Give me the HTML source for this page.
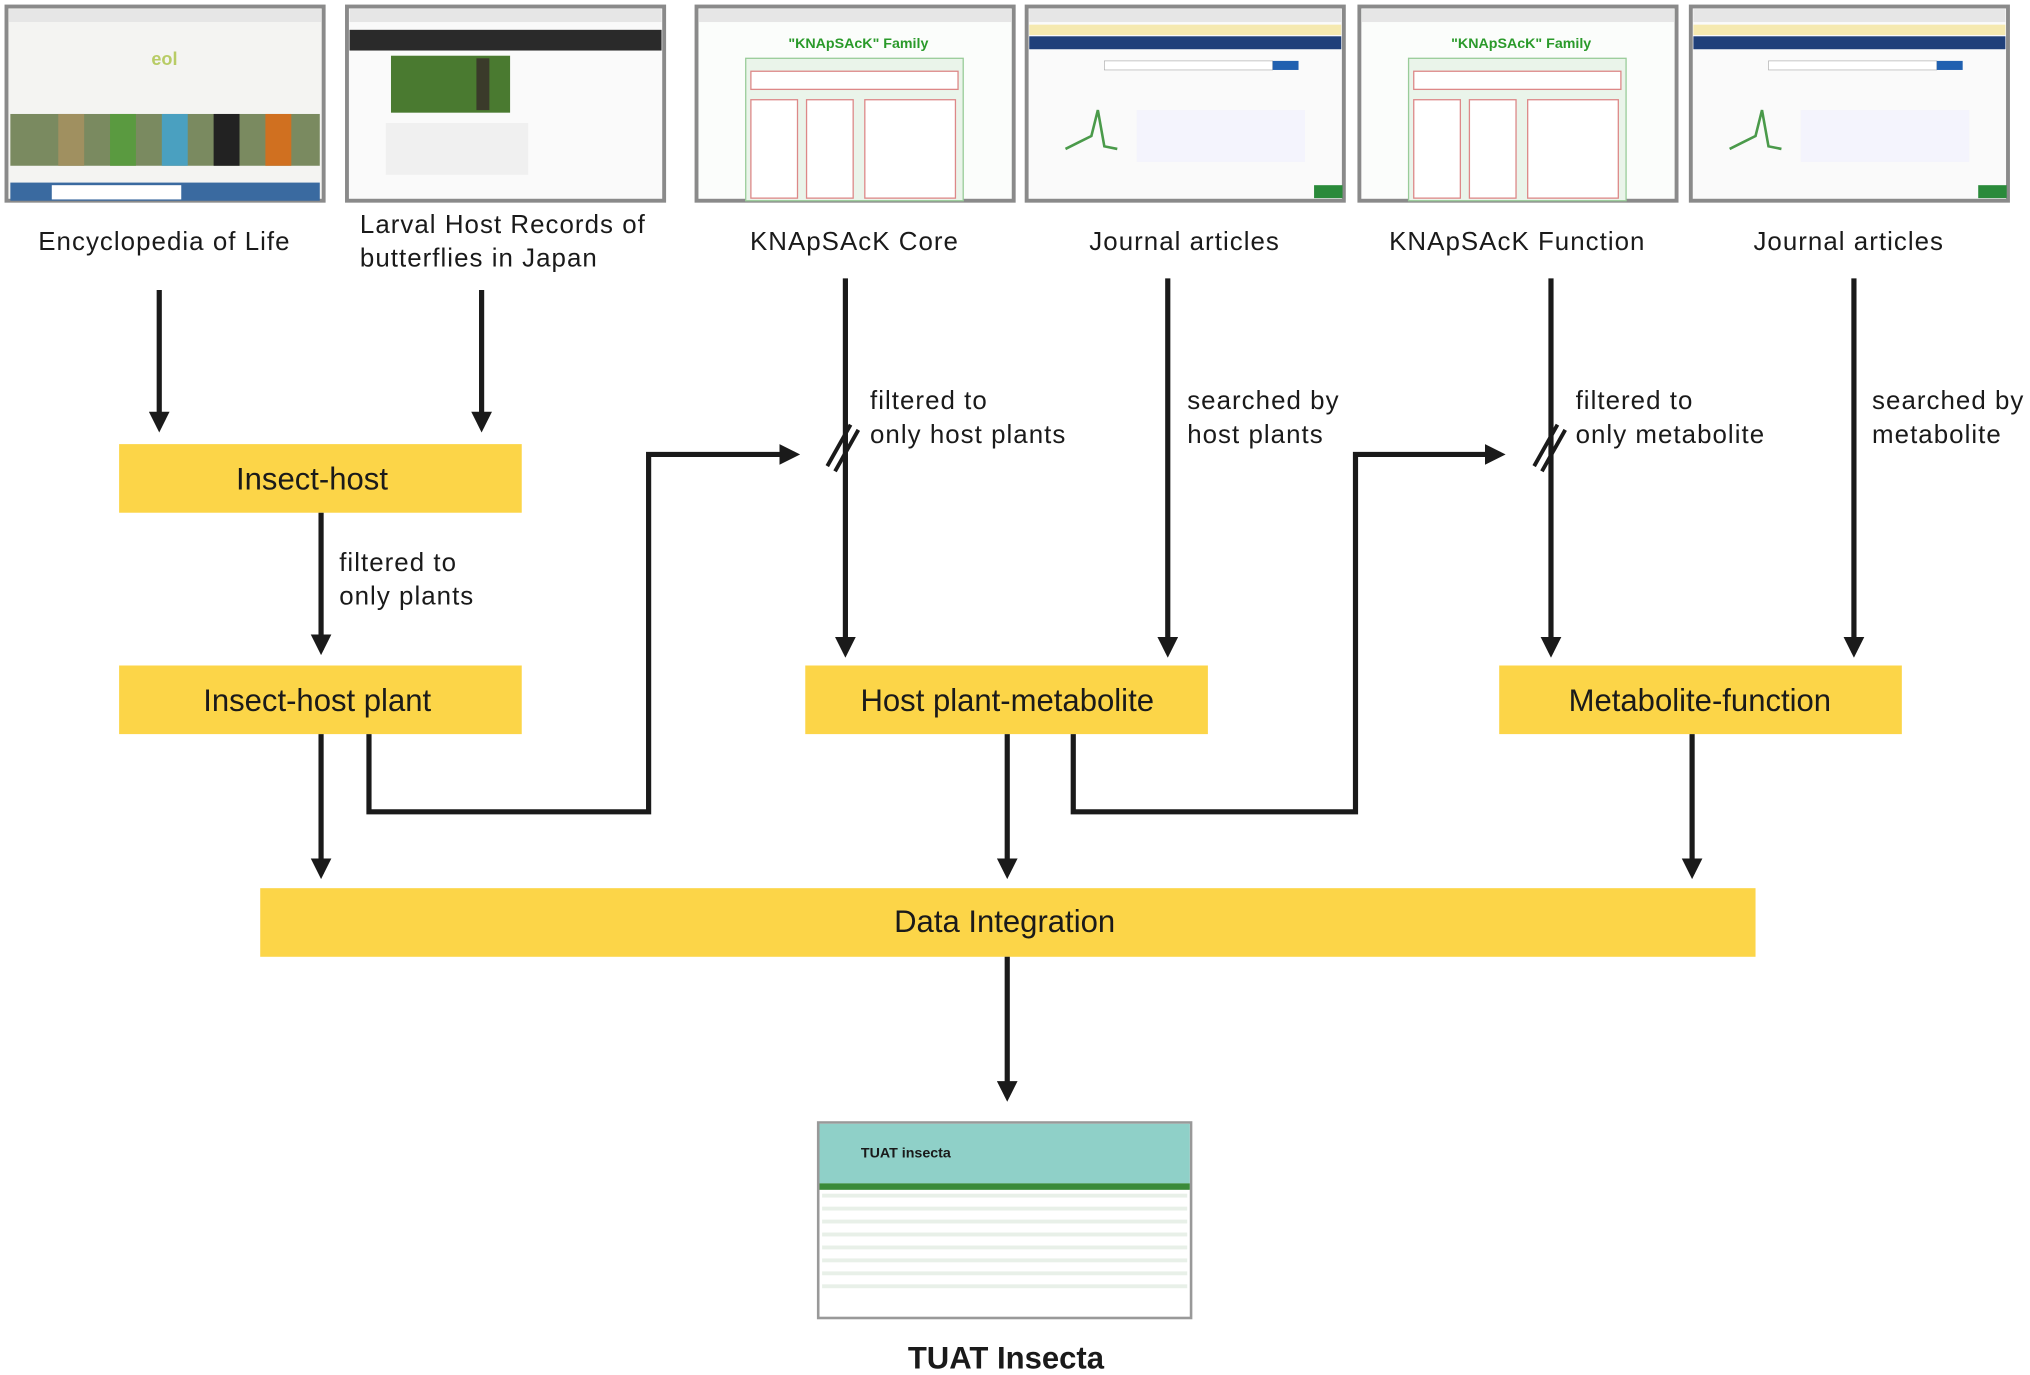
<!DOCTYPE html>
<html><head><meta charset="utf-8"><style>
html,body{margin:0;padding:0;background:#fff;}
svg{display:block;}
text{font-family:"Liberation Sans",Arial,sans-serif;fill:#1a1a1a;}
</style></head><body>
<svg width="2030" height="1375" viewBox="0 0 1568 1062" xmlns="http://www.w3.org/2000/svg">
<defs>
<marker id="a" markerWidth="4" markerHeight="4" refX="3" refY="2" orient="auto" markerUnits="strokeWidth">
<path d="M0,0 L4,2 L0,4 z" fill="#1a1a1a"/></marker>
<g id="eol">
<rect x="0" y="0" width="245" height="150" fill="#f4f4f2" stroke="#8a8a8a" stroke-width="3"/>
<rect x="2" y="2" width="241" height="10" fill="#e6e6e6"/>
<text x="122" y="45" font-size="14" fill="#b8cc66" text-anchor="middle" font-weight="bold" style="fill:#b8cc66">eol</text>
<rect x="3" y="83" width="239" height="40" fill="#7a8a60"/>
<rect x="40" y="83" width="20" height="40" fill="#a09060"/><rect x="80" y="83" width="20" height="40" fill="#5a9a40"/>
<rect x="120" y="83" width="20" height="40" fill="#4aa0c0"/><rect x="160" y="83" width="20" height="40" fill="#222"/>
<rect x="200" y="83" width="20" height="40" fill="#d07020"/>
<rect x="3" y="136" width="239" height="14" fill="#3a6aa0"/>
<rect x="35" y="138" width="100" height="11" fill="#fff"/>
</g>
<g id="lar">
<rect x="0" y="0" width="245" height="150" fill="#fafafa" stroke="#8a8a8a" stroke-width="3"/>
<rect x="2" y="2" width="241" height="10" fill="#e6e6e6"/>
<rect x="2" y="18" width="241" height="16" fill="#2a2a2a"/>
<rect x="34" y="38" width="92" height="44" fill="#4a7a30"/>
<rect x="100" y="40" width="10" height="40" fill="#3a3a2a"/>
<rect x="30" y="90" width="110" height="40" fill="#f0f0f0"/>
</g>
<g id="kna">
<rect x="0" y="0" width="245" height="150" fill="#fbfdfb" stroke="#8a8a8a" stroke-width="3"/>
<rect x="2" y="2" width="241" height="10" fill="#e6e6e6"/>
<text x="125" y="32" font-size="11" font-weight="bold" text-anchor="middle" style="fill:#2a9a2a">"KNApSAcK" Family</text>
<rect x="38" y="40" width="168" height="110" fill="#eaf4ea" stroke="#9c9" stroke-width="1"/>
<rect x="42" y="50" width="160" height="14" fill="#fff" stroke="#d88"/>
<rect x="42" y="72" width="36" height="76" fill="#fff" stroke="#d88"/>
<rect x="85" y="72" width="36" height="76" fill="#fff" stroke="#d88"/>
<rect x="130" y="72" width="70" height="76" fill="#fff" stroke="#d88"/>
</g>
<g id="jou">
<rect x="0" y="0" width="245" height="150" fill="#fafafa" stroke="#8a8a8a" stroke-width="3"/>
<rect x="2" y="2" width="241" height="10" fill="#e6e6e6"/>
<rect x="2" y="14" width="241" height="8" fill="#f5e9b0"/>
<rect x="2" y="23" width="241" height="10" fill="#20407a"/>
<rect x="60" y="42" width="130" height="7" fill="#fff" stroke="#aaa" stroke-width="0.5"/>
<rect x="190" y="42" width="20" height="7" fill="#2060b0"/>
<path d="M30 110 L40 105 L50 100 L55 80 L60 108 L70 110" stroke="#4a9a4a" stroke-width="2" fill="none"/>
<rect x="85" y="80" width="130" height="40" fill="#eef" opacity="0.5"/>
<rect x="222" y="138" width="22" height="10" fill="#2a8a3a"/>
</g>
</defs>

<use href="#eol" x="5" y="5"/>
<use href="#lar" x="268" y="5"/>
<use href="#kna" x="538" y="5"/>
<use href="#jou" x="793" y="5"/>
<use href="#kna" x="1050" y="5"/>
<use href="#jou" x="1306" y="5"/>

<g font-size="20" letter-spacing="0.8">
<text x="127" y="193" text-anchor="middle">Encyclopedia of Life</text>
<text x="278" y="180">Larval Host Records of</text>
<text x="278" y="206">butterflies in Japan</text>
<text x="660" y="193" text-anchor="middle">KNApSAcK Core</text>
<text x="915" y="193" text-anchor="middle">Journal articles</text>
<text x="1172" y="193" text-anchor="middle">KNApSAcK Function</text>
<text x="1428" y="193" text-anchor="middle">Journal articles</text>
<text x="262" y="441">filtered to</text><text x="262" y="467">only plants</text>
<text x="672" y="316">filtered to</text><text x="672" y="342">only host plants</text>
<text x="917" y="316">searched by</text><text x="917" y="342">host plants</text>
<text x="1217" y="316">filtered to</text><text x="1217" y="342">only metabolite</text>
<text x="1446" y="316">searched by</text><text x="1446" y="342">metabolite</text>
</g>

<g fill="#fcd548">
<rect x="92" y="343" width="311" height="53"/>
<rect x="92" y="514" width="311" height="53"/>
<rect x="622" y="514" width="311" height="53"/>
<rect x="1158" y="514" width="311" height="53"/>
<rect x="201" y="686" width="1155" height="53"/>
</g>
<g font-size="24" text-anchor="middle">
<text x="241" y="378">Insect-host</text>
<text x="245" y="549">Insect-host plant</text>
<text x="778" y="549">Host plant-metabolite</text>
<text x="1313" y="549">Metabolite-function</text>
<text x="776" y="720">Data Integration</text>
</g>

<g stroke="#1a1a1a" stroke-width="4" fill="none" marker-end="url(#a)">
<line x1="123" y1="224" x2="123" y2="330"/>
<line x1="372" y1="224" x2="372" y2="330"/>
<line x1="248" y1="396" x2="248" y2="502"/>
<line x1="653" y1="215" x2="653" y2="504"/>
<line x1="902" y1="215" x2="902" y2="504"/>
<line x1="1198" y1="215" x2="1198" y2="504"/>
<line x1="1432" y1="215" x2="1432" y2="504"/>
<polyline points="285,567 285,627 501,627 501,351 614,351"/>
<polyline points="829,567 829,627 1047,627 1047,351 1159,351"/>
<line x1="248" y1="567" x2="248" y2="675"/>
<line x1="778" y1="567" x2="778" y2="675"/>
<line x1="1307" y1="567" x2="1307" y2="675"/>
<line x1="778" y1="739" x2="778" y2="847"/>
</g>
<g stroke="#1a1a1a" stroke-width="3">
<line x1="639" y1="360" x2="657" y2="328"/><line x1="645" y1="364" x2="663" y2="332"/>
<line x1="1185" y1="360" x2="1203" y2="328"/><line x1="1191" y1="364" x2="1209" y2="332"/>
</g>

<rect x="632" y="867" width="288" height="151" fill="#fff" stroke="#999" stroke-width="2"/>
<rect x="633" y="868" width="286" height="46" fill="#8fd0c8"/>
<text x="665" y="894" font-size="11" font-family="Liberation Serif,serif" font-weight="bold">TUAT insecta</text>
<rect x="633" y="914" width="286" height="5" fill="#3a8a3a"/>
<g fill="#e8f0e8">
<rect x="635" y="922" width="282" height="3"/><rect x="635" y="932" width="282" height="3"/>
<rect x="635" y="942" width="282" height="3"/><rect x="635" y="952" width="282" height="3"/>
<rect x="635" y="962" width="282" height="3"/><rect x="635" y="972" width="282" height="3"/>
<rect x="635" y="982" width="282" height="3"/><rect x="635" y="992" width="282" height="3"/>
</g>
<text x="777" y="1057" font-size="24" font-weight="bold" text-anchor="middle">TUAT Insecta</text>
</svg>
</body></html>
